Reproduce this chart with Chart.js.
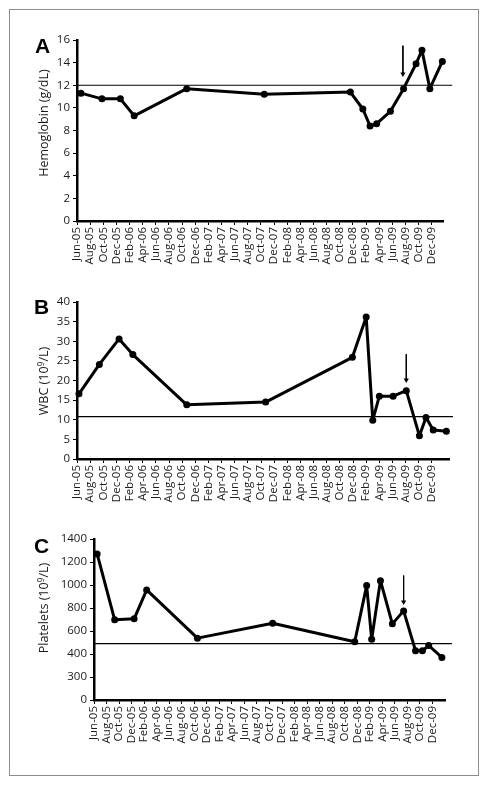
<!DOCTYPE html>
<html>
<head>
<meta charset="utf-8">
<script src="https://cdn.jsdelivr.net/npm/chart.js@4.4.1/dist/chart.umd.min.js"></script>
<style>
  body { margin: 0; background: #fff; }
  #page { position: relative; width: 488px; height: 786px; overflow: hidden; font-family: "Open Sans", sans-serif; }
  #frame { position: absolute; left: 9px; top: 9px; width: 470px; height: 767px; box-sizing: border-box; border: 1.5px solid #8c8c8c; }
  canvas { position: absolute; left: 0; top: 0; }
  .panel { position: absolute; font: bold 21px "Liberation Sans", Arial, sans-serif; line-height: 1; color: #000; }
  .ytitle { position: absolute; font-size: 12.5px; line-height: 1; color: #1a1a1a; white-space: nowrap;
            transform: translate(-50%, -50%) rotate(-90deg); }
  .ytitle sup { font-size: 8.5px; vertical-align: baseline; position: relative; top: -4px; }
</style>
</head>
<body>
<div id="page">
  <div id="frame"></div>
  <canvas id="chartA" width="488" height="786"></canvas>
  <canvas id="chartB" width="488" height="786"></canvas>
  <canvas id="chartC" width="488" height="786"></canvas>
  <div class="panel" style="left:35px; top:35px;">A</div>
  <div class="panel" style="left:34px; top:296px;">B</div>
  <div class="panel" style="left:34px; top:535px;">C</div>
  <div class="ytitle" style="left:43.5px; top:123px;">Hemoglobin (g/dL)</div>
  <div class="ytitle" style="left:43.5px; top:381px;">WBC (10<sup>9</sup>/L)</div>
  <div class="ytitle" style="left:43.5px; top:608px;">Platelets (10<sup>9</sup>/L)</div>
</div>
<script>
// x axis: months counted from Jun-05, labelled every 2 months
const monthLabels = ["Jun-05", "Aug-05", "Oct-05", "Dec-05", "Feb-06", "Apr-06", "Jun-06", "Aug-06",
  "Oct-06", "Dec-06", "Feb-07", "Apr-07", "Jun-07", "Aug-07", "Oct-07", "Dec-07", "Feb-08", "Apr-08",
  "Jun-08", "Aug-08", "Oct-08", "Dec-08", "Feb-09", "Apr-09", "Jun-09", "Aug-09", "Oct-09", "Dec-09"]
const tickMonths = monthLabels.map((_, i) => i * 2)

// A - hemoglobin
const hgbMonths = [0.6, 3.8, 6.6, 8.7, 16.7, 28.5, 41.6, 43.5, 44.6, 45.6, 47.7, 49.7, 51.6, 52.5, 53.7, 55.6]
const hgbValues = [11.3, 10.8, 10.8, 9.3, 11.7, 11.2, 11.4, 9.9, 8.4, 8.6, 9.7, 11.7, 13.9, 15.1, 11.7, 14.1]
const hgbLimit = 12
const hgbArrow = [49.6, 15.5, 13.0] // month, top, head

// B - WBC
const wbcMonths = [0.3, 3.4, 6.4, 8.5, 16.7, 28.7, 41.9, 44.0, 45.0, 46.0, 48.1, 50.1, 52.1, 53.1, 54.2, 56.2]
const wbcValues = [16.6, 24.1, 30.6, 26.6, 13.8, 14.5, 25.9, 36.2, 9.9, 16.0, 16.0, 17.4, 5.9, 10.6, 7.4, 7.1]
const wbcLimit = 10.8
const wbcArrow = [50.1, 26.7, 20.1]

// C - platelets
const pltMonths = [0.5, 3.3, 6.4, 8.4, 16.5, 28.5, 41.6, 43.5, 44.3, 45.7, 47.6, 49.4, 51.3, 52.4, 53.4, 55.5]
const pltValues = [1270, 697, 706, 957, 538, 668, 506, 995, 529, 1038, 662, 775, 428, 428, 474, 370]
const pltLimit = 490
const pltArrow = [49.4, 1082, 853]
const pltTickLabels = ["0", "300", "400", "600", "800", "1000", "1200", "1400"]

const tickFont = { family: "Open Sans", size: 11.5 }

function makeChart(id, cfg) {
  new Chart(document.getElementById(id), {
    type: "line",
    data: {
      datasets: [
        {
          data: cfg.months.map((m, i) => ({ x: m, y: cfg.values[i] })),
          borderColor: "#000",
          backgroundColor: "#000",
          borderWidth: 3,
          borderJoinStyle: "round",
          pointRadius: 3.5,
          pointBorderWidth: 0,
          tension: 0,
          clip: false,
        },
        {
          // normal limit line
          data: [{ x: 0, y: cfg.limit }, { x: cfg.limitEnd, y: cfg.limit }],
          borderColor: "#000",
          borderWidth: 1.2,
          pointRadius: 0,
          clip: false,
        },
        {
          // arrow
          data: [{ x: cfg.arrow[0], y: cfg.arrow[1] }, { x: cfg.arrow[0], y: cfg.arrow[2] }],
          borderColor: "#000",
          backgroundColor: "#000",
          borderWidth: 1,
          pointRadius: [0, 3],
          pointBorderWidth: 0,
          pointStyle: "triangle",
          pointRotation: 180,
        },
      ],
    },
    options: {
      responsive: false,
      animation: false,
      events: [],
      layout: { padding: cfg.padding },
      plugins: { legend: { display: false }, tooltip: { enabled: false } },
      scales: {
        x: {
          type: "linear",
          min: 0,
          max: cfg.xMax,
          afterBuildTicks: (s) => { s.ticks = tickMonths.map((v) => ({ value: v })) },
          afterFit: (s) => { s.height = 60 },
          ticks: {
            autoSkip: false,
            minRotation: 90,
            maxRotation: 90,
            padding: 2,
            color: "#1a1a1a",
            font: tickFont,
            callback: (v, i) => monthLabels[i],
          },
          grid: { drawOnChartArea: false, tickLength: 4, color: "#000", lineWidth: 1 },
          border: { color: "#000", width: 2.5 },
        },
        y: {
          min: 0,
          max: cfg.yMax,
          afterFit: (s) => { s.width = 40 },
          ticks: {
            stepSize: cfg.yStep,
            padding: 3,
            color: "#1a1a1a",
            font: tickFont,
            callback: (v, i) => (cfg.yLabels ? cfg.yLabels[i] : String(v)),
          },
          grid: { drawOnChartArea: false, tickLength: 4, color: "#000", lineWidth: 1 },
          border: { color: "#000", width: 2.5 },
        },
      },
    },
  })
}

makeChart("chartA", {
  months: hgbMonths, values: hgbValues, limit: hgbLimit, limitEnd: 57.1, arrow: hgbArrow,
  xMax: 55.7, yMax: 16, yStep: 2,
  padding: { left: 37, right: 45, top: 40, bottom: 505 },
})

makeChart("chartB", {
  months: wbcMonths, values: wbcValues, limit: wbcLimit, limitEnd: 57.2, arrow: wbcArrow,
  xMax: 56.6, yMax: 40, yStep: 5,
  padding: { left: 37, right: 39, top: 302, bottom: 267 },
})

makeChart("chartC", {
  months: pltMonths, values: pltValues, limit: pltLimit, limitEnd: 57.1, arrow: pltArrow,
  xMax: 56, yMax: 1400, yStep: 200, yLabels: pltTickLabels,
  padding: { left: 54, right: 43, top: 539, bottom: 26 },
})
</script>
</body>
</html>
